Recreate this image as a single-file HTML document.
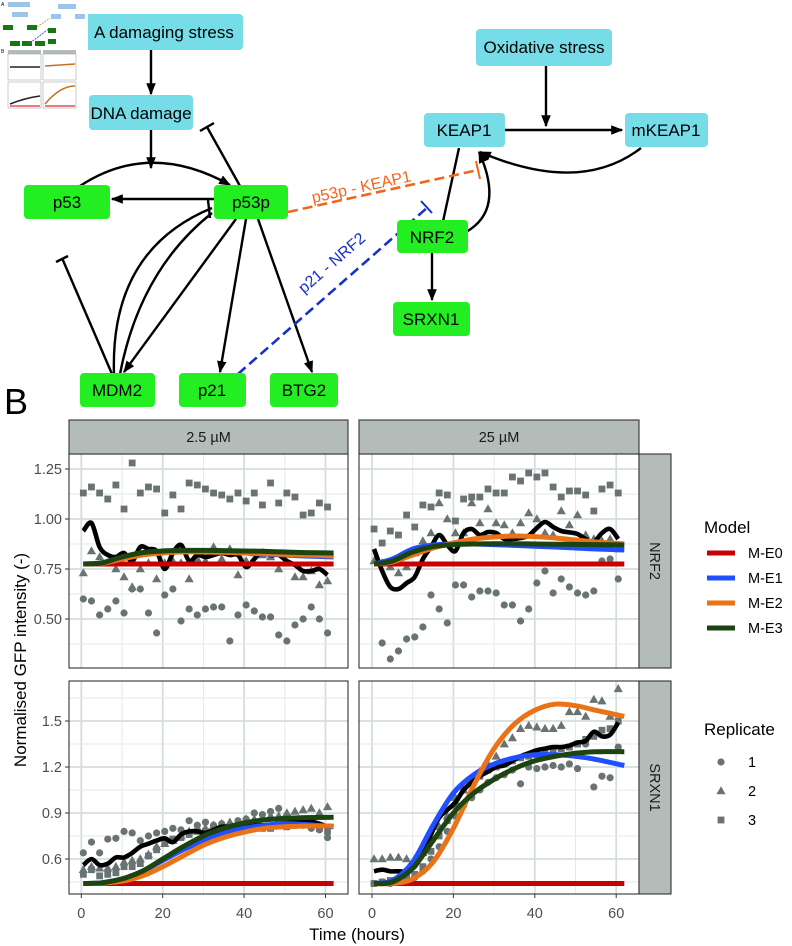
<!DOCTYPE html>
<html><head><meta charset="utf-8"><style>
html,body{margin:0;padding:0;background:#fff;}
svg{display:block;font-family:"Liberation Sans",Arial,sans-serif;}
</style></head><body>
<svg id="fig" width="792" height="946" viewBox="0 0 792 946">
<defs>
<marker id="ah" viewBox="0 0 10 10" refX="9" refY="5" markerWidth="5" markerHeight="5" orient="auto"><path d="M0,1 L10,5 L0,9 z" fill="#000"/></marker>
</defs>
<g id="panelA" font-size="17">
 <g stroke="#000" stroke-width="2.4" fill="none">
  <line x1="151" y1="50" x2="151" y2="94" marker-end="url(#ah)"/>
  <line x1="151" y1="130" x2="151" y2="168" marker-end="url(#ah)"/>
  <path d="M80,186 Q150,140 230,185" marker-end="url(#ah)"/>
  <line x1="214" y1="199" x2="112" y2="199" marker-end="url(#ah)"/>
  <line x1="240" y1="186" x2="207" y2="127"/>
  <line x1="200" y1="131" x2="214" y2="123"/>
  <line x1="236" y1="219" x2="124" y2="372" marker-end="url(#ah)"/>
  <line x1="246" y1="219" x2="220" y2="372" marker-end="url(#ah)"/>
  <line x1="258" y1="219" x2="312" y2="372" marker-end="url(#ah)"/>
  <line x1="112" y1="374" x2="62" y2="258"/>
  <line x1="56" y1="262" x2="68" y2="256"/>
  <path d="M114,374 Q110,250 212,208"/>
  <path d="M120,374 Q140,270 212,213"/>
  <line x1="208" y1="200" x2="210" y2="218"/>
  <line x1="546" y1="66" x2="546" y2="126" marker-end="url(#ah)"/>
  <line x1="505" y1="130" x2="622" y2="130" marker-end="url(#ah)"/>
  <path d="M641,148 Q580,195 480,152" marker-end="url(#ah)"/>
  <path d="M466,232 Q505,210 479,152" marker-end="url(#ah)"/>
  <line x1="459" y1="148" x2="442" y2="226"/>
  <line x1="434" y1="226" x2="450" y2="227"/>
  <line x1="432" y1="253" x2="432" y2="300" marker-end="url(#ah)"/>
 </g>
 <g>
  <line x1="288" y1="212" x2="478" y2="170" stroke="#f4661b" stroke-width="2.6" stroke-dasharray="10,5"/>
  <line x1="476" y1="161" x2="480" y2="179" stroke="#f4661b" stroke-width="2"/>
  <text x="0" y="0" fill="#f4661b" font-size="16" transform="translate(313,203) rotate(-12.5)">p53p - KEAP1</text>
 </g>
 <g>
  <line x1="238" y1="374" x2="428" y2="207" stroke="#1533c8" stroke-width="2.6" stroke-dasharray="10,5"/>
  <line x1="421" y1="201" x2="432" y2="213" stroke="#1533c8" stroke-width="2"/>
  <text x="0" y="0" fill="#1533c8" font-size="16" transform="translate(304,294) rotate(-41)">p21 - NRF2</text>
 </g>
 <g><rect x="85" y="14" width="158" height="36" rx="4" fill="#76dde8"/><text x="94" y="38">A damaging stress</text></g>
 <g><rect x="89" y="95" width="104" height="35" rx="4" fill="#76dde8"/><text x="141" y="119" text-anchor="middle">DNA damage</text></g>
 <g><rect x="24" y="185" width="86" height="34" rx="4" fill="#22ee22"/><text x="67" y="208" text-anchor="middle">p53</text></g>
 <g><rect x="214" y="185" width="74" height="34" rx="4" fill="#22ee22"/><text x="251" y="208" text-anchor="middle">p53p</text></g>
 <g><rect x="80" y="373" width="75" height="34" rx="4" fill="#22ee22"/><text x="117" y="396" text-anchor="middle">MDM2</text></g>
 <g><rect x="179" y="373" width="67" height="34" rx="4" fill="#22ee22"/><text x="212" y="396" text-anchor="middle">p21</text></g>
 <g><rect x="270" y="373" width="68" height="34" rx="4" fill="#22ee22"/><text x="304" y="396" text-anchor="middle">BTG2</text></g>
 <g><rect x="476" y="29" width="136" height="37" rx="4" fill="#76dde8"/><text x="544" y="53" text-anchor="middle">Oxidative stress</text></g>
 <g><rect x="424" y="113" width="81" height="34" rx="4" fill="#76dde8"/><text x="464" y="136" text-anchor="middle">KEAP1</text></g>
 <g><rect x="625" y="113" width="83" height="34" rx="4" fill="#76dde8"/><text x="666" y="136" text-anchor="middle">mKEAP1</text></g>
 <g><rect x="397" y="220" width="71" height="33" rx="4" fill="#22ee22"/><text x="432" y="243" text-anchor="middle">NRF2</text></g>
 <g><rect x="393" y="302" width="77" height="34" rx="4" fill="#22ee22"/><text x="431" y="325" text-anchor="middle">SRXN1</text></g>
 <g>
  <rect x="0" y="0" width="88" height="126" fill="#fff"/>
  <text x="1" y="6" font-size="5">A</text>
  <rect x="8" y="2" width="22" height="5" fill="#9dc3e8"/><rect x="12" y="12" width="16" height="5" fill="#9dc3e8"/>
  <rect x="58" y="4" width="18" height="5" fill="#9dc3e8"/><rect x="51" y="14" width="10" height="5" fill="#9dc3e8"/><rect x="75" y="14" width="10" height="5" fill="#9dc3e8"/>
  <rect x="3" y="25" width="10" height="5" fill="#137a13"/><rect x="27" y="25" width="10" height="5" fill="#137a13"/><rect x="48" y="28" width="8" height="5" fill="#137a13"/>
  <rect x="10" y="41" width="10" height="5" fill="#137a13"/><rect x="22" y="41" width="10" height="5" fill="#137a13"/><rect x="35" y="41" width="10" height="5" fill="#137a13"/><rect x="48" y="39" width="8" height="5" fill="#137a13"/>
  <line x1="37" y1="27" x2="50" y2="18" stroke="#e8a040" stroke-width="1" stroke-dasharray="2,1"/>
  <line x1="30" y1="43" x2="50" y2="28" stroke="#4060d0" stroke-width="1" stroke-dasharray="2,1"/>
  <text x="1" y="53" font-size="5">B</text>
  <rect x="8" y="50" width="33" height="4" fill="#b3bcb8"/><rect x="43" y="50" width="33" height="4" fill="#b3bcb8"/>
  <rect x="8" y="54" width="33" height="26" fill="#fff" stroke="#999" stroke-width=".5"/><rect x="43" y="54" width="33" height="26" fill="#fff" stroke="#999" stroke-width=".5"/>
  <rect x="8" y="82" width="33" height="26" fill="#fff" stroke="#999" stroke-width=".5"/><rect x="43" y="82" width="33" height="26" fill="#fff" stroke="#999" stroke-width=".5"/>
  <line x1="10" y1="67" x2="40" y2="67" stroke="#222" stroke-width="1.5"/><line x1="45" y1="66" x2="75" y2="64" stroke="#c87020" stroke-width="1.5"/>
  <line x1="10" y1="106" x2="40" y2="106" stroke="#c00" stroke-width="1"/><path d="M10,104 Q25,98 40,96" stroke="#222" stroke-width="1.5" fill="none"/>
  <line x1="45" y1="106" x2="75" y2="106" stroke="#c00" stroke-width="1"/><path d="M45,104 Q60,86 75,86" stroke="#c87020" stroke-width="1.5" fill="none"/>
 </g>
</g>
<text x="4" y="414" font-size="36">B</text>
<g id="chart"></g>
</svg>
<script>
const times = [0.5,2.5,4.5,6.5,8.5,10.5,12.5,14.5,16.5,18.5,20.5,22.5,24.5,26.5,28.5,30.5,32.5,34.5,36.5,38.5,40.5,42.5,44.5,46.5,48.5,50.5,52.5,54.5,56.5,58.5,60.5];
const modelTimes = [0.5,5,10,15,20,25,30,35,40,45,50,55,62];
const concentrations = ["2.5 µM","25 µM"];
const readouts = ["NRF2","SRXN1"];
const modelNames = ["M-E0","M-E1","M-E2","M-E3"];
const replicateNames = ["1","2","3"];

const nrf2LowRep1 = [0.60,0.59,0.52,0.55,0.59,0.53,0.65,0.65,0.53,0.43,0.62,0.65,0.49,0.55,0.52,0.55,0.56,0.56,0.39,0.52,0.57,0.54,0.51,0.51,0.42,0.39,0.47,0.50,0.56,0.50,0.43];
const nrf2LowRep2 = [0.73,0.84,0.81,0.78,0.75,0.71,0.66,0.75,0.78,0.70,0.78,0.79,0.78,0.70,0.80,0.79,0.86,0.80,0.85,0.72,0.79,0.83,0.82,0.81,0.75,0.78,0.71,0.71,0.74,0.67,0.69];
const nrf2LowRep3 = [1.13,1.16,1.13,1.10,1.17,1.05,1.28,1.13,1.16,1.15,1.03,1.12,1.05,1.18,1.17,1.15,1.13,1.12,1.10,1.13,1.09,1.13,1.07,1.18,1.08,1.13,1.11,1.02,1.03,1.08,1.06];
const nrf2LowMean = [0.94,0.98,0.86,0.82,0.81,0.83,0.79,0.86,0.85,0.84,0.75,0.83,0.87,0.79,0.82,0.81,0.82,0.83,0.82,0.82,0.76,0.80,0.84,0.82,0.82,0.79,0.77,0.74,0.74,0.75,0.72];
const nrf2LowE0 = [0.775,0.775,0.775,0.775,0.775,0.775,0.775,0.775,0.775,0.775,0.775,0.775,0.775];
const nrf2LowE1 = [0.775,0.78,0.81,0.83,0.838,0.84,0.838,0.835,0.83,0.825,0.82,0.815,0.81];
const nrf2LowE2 = [0.775,0.778,0.80,0.82,0.83,0.835,0.835,0.833,0.83,0.827,0.823,0.82,0.815];
const nrf2LowE3 = [0.775,0.78,0.81,0.832,0.84,0.843,0.843,0.842,0.84,0.838,0.835,0.832,0.83];
const nrf2HighRep1 = [null,0.38,0.30,0.34,0.40,0.41,0.46,0.62,0.55,0.48,0.67,0.67,0.61,0.64,0.64,0.63,0.57,0.57,0.49,0.55,0.68,0.74,0.63,0.70,0.66,0.63,0.62,0.64,0.79,0.80,0.70];
const nrf2HighRep2 = [0.79,0.78,0.76,0.73,0.76,0.83,0.89,0.93,1.08,1.00,0.93,0.93,1.08,0.98,1.05,0.98,0.97,0.93,0.98,1.03,1.00,0.93,0.92,1.04,0.97,1.02,0.92,0.90,0.89,0.90,0.85];
const nrf2HighRep3 = [0.95,0.88,0.94,0.92,1.02,0.96,1.07,1.06,1.13,1.12,0.99,1.10,1.11,1.11,1.15,1.13,1.13,1.21,1.19,1.23,1.21,1.23,1.16,1.11,1.14,1.14,1.12,1.04,1.15,1.17,1.13];
const nrf2HighMean = [0.85,0.74,0.66,0.65,0.68,0.71,0.80,0.86,0.92,0.87,0.84,0.93,0.95,0.92,0.935,0.93,0.90,0.90,0.905,0.917,0.955,0.985,0.96,0.94,0.933,0.925,0.90,0.885,0.93,0.95,0.90];
const nrf2HighE0 = [0.775,0.775,0.775,0.775,0.775,0.775,0.775,0.775,0.775,0.775,0.775,0.775,0.775];
const nrf2HighE1 = [0.775,0.80,0.85,0.87,0.875,0.875,0.872,0.868,0.864,0.86,0.855,0.85,0.845];
const nrf2HighE2 = [0.775,0.785,0.82,0.855,0.88,0.90,0.91,0.915,0.912,0.905,0.895,0.885,0.875];
const nrf2HighE3 = [0.775,0.79,0.835,0.862,0.872,0.875,0.876,0.876,0.875,0.874,0.873,0.872,0.87];
const srxnLowRep1 = [0.64,0.71,0.64,0.73,0.735,0.78,0.77,0.72,0.75,0.77,0.78,0.80,0.79,0.85,0.82,0.84,0.82,0.83,0.80,0.85,0.86,0.90,0.89,0.91,0.93,0.87,0.85,0.82,0.80,0.79,0.74];
const srxnLowRep2 = [0.53,0.55,0.54,0.54,0.55,0.58,0.59,0.60,0.63,0.68,0.70,0.72,0.75,0.78,0.80,0.80,0.82,0.83,0.84,0.84,0.86,0.86,0.87,0.88,0.88,0.90,0.91,0.92,0.93,0.90,0.94];
const srxnLowRep3 = [0.50,0.53,0.49,0.50,0.51,0.55,0.55,0.57,0.62,0.66,0.70,0.73,0.74,0.76,0.78,0.78,0.76,0.78,0.79,0.80,0.80,0.81,0.80,0.80,0.82,0.81,0.82,0.83,0.84,0.80,0.78];
const srxnLowMean = [0.56,0.60,0.56,0.57,0.61,0.61,0.64,0.68,0.70,0.72,0.735,0.71,0.76,0.78,0.78,0.77,0.79,0.81,0.81,0.81,0.815,0.82,0.82,0.82,0.83,0.835,0.84,0.843,0.843,0.83,0.81];
const srxnLowE0 = [0.44,0.44,0.44,0.44,0.44,0.44,0.44,0.44,0.44,0.44,0.44,0.44,0.44];
const srxnLowE1 = [0.44,0.445,0.47,0.52,0.59,0.66,0.72,0.77,0.80,0.82,0.83,0.825,0.81];
const srxnLowE2 = [0.44,0.442,0.455,0.49,0.55,0.62,0.69,0.74,0.775,0.80,0.81,0.815,0.815];
const srxnLowE3 = [0.44,0.445,0.47,0.52,0.60,0.68,0.75,0.80,0.835,0.855,0.865,0.87,0.872];
const srxnHighRep1 = [0.44,0.45,0.44,0.45,0.46,0.48,0.52,0.60,0.68,0.78,0.88,0.95,1.00,1.05,1.10,1.13,1.15,1.18,1.09,1.20,1.19,1.20,1.21,1.20,1.22,1.19,1.35,1.07,1.14,1.13,1.33];
const srxnHighRep2 = [0.60,0.60,0.61,0.61,0.60,0.60,0.64,0.73,0.81,0.88,1.00,1.05,1.12,1.17,1.22,1.27,1.35,1.39,1.45,1.47,1.46,1.45,1.45,1.47,1.56,1.56,1.53,1.64,1.63,1.53,1.71];
const srxnHighRep3 = [0.44,0.45,0.46,0.47,0.48,0.50,0.55,0.65,0.75,0.85,0.95,1.05,1.10,1.14,1.18,1.20,1.22,1.24,1.26,1.27,1.28,1.30,1.31,1.32,1.33,1.35,1.38,1.40,1.44,1.45,1.50];
const srxnHighMean = [0.52,0.53,0.52,0.52,0.52,0.55,0.64,0.76,0.87,0.92,0.97,1.05,1.10,1.14,1.17,1.20,1.21,1.24,1.27,1.29,1.31,1.32,1.33,1.33,1.34,1.36,1.37,1.43,1.40,1.41,1.49];
const srxnHighE0 = [0.44,0.44,0.44,0.44,0.44,0.44,0.44,0.44,0.44,0.44,0.44,0.44,0.44];
const srxnHighE1 = [0.44,0.46,0.58,0.82,1.03,1.15,1.22,1.26,1.28,1.28,1.27,1.25,1.21];
const srxnHighE2 = [0.44,0.44,0.47,0.58,0.80,1.08,1.32,1.48,1.57,1.61,1.60,1.57,1.53];
const srxnHighE3 = [0.44,0.45,0.54,0.72,0.90,1.03,1.12,1.19,1.24,1.27,1.29,1.30,1.30];

const xTicks = [0,20,40,60];
const nrf2Ticks = [0.50,0.75,1.00,1.25];
const nrf2TickLabels = ["0.50","0.75","1.00","1.25"];
const srxnTicks = [0.6,0.9,1.2,1.5];
const srxnTickLabels = ["0.6","0.9","1.2","1.5"];

const NS = "http://www.w3.org/2000/svg";
const root = document.getElementById('chart');
const modelColors = ["#c80000","#1f4fff","#ea7317","#1c4410"];
const ptColor = "#6a7373";
const cols = [{x0:69,x1:348,zx:81.3},{x0:359,x1:639,zx:372}];
const rows = [{y0:454,y1:668,ref:1.0,refY:519,k:200},{y0:681,y1:894,ref:0.6,refY:859,k:153.3}];
function xScale(c,t){return cols[c].zx + t*4.07;}
function yScale(r,v){return rows[r].refY - (v-rows[r].ref)*rows[r].k;}
function el(tag,attrs,parent){const e=document.createElementNS(NS,tag);for(const k in attrs)e.setAttribute(k,attrs[k]);(parent||root).appendChild(e);return e;}
function smoothPath(pts){
  let d="M"+pts[0][0].toFixed(1)+","+pts[0][1].toFixed(1);
  for(let i=0;i<pts.length-1;i++){
    const p0=pts[Math.max(0,i-1)],p1=pts[i],p2=pts[i+1],p3=pts[Math.min(pts.length-1,i+2)];
    const c1=[p1[0]+(p2[0]-p0[0])/6,p1[1]+(p2[1]-p0[1])/6],c2=[p2[0]-(p3[0]-p1[0])/6,p2[1]-(p3[1]-p1[1])/6];
    d+=" C"+c1[0].toFixed(1)+","+c1[1].toFixed(1)+" "+c2[0].toFixed(1)+","+c2[1].toFixed(1)+" "+p2[0].toFixed(1)+","+p2[1].toFixed(1);
  }
  return d;
}
function marker(kind,x,y,parent){
  let m;
  if(kind===0){m=el('circle',{cx:x,cy:y,r:3.6,fill:ptColor},parent);}
  else if(kind===1){m=el('path',{d:`M${x},${y-4.8} L${x+4.6},${y+3.3} L${x-4.6},${y+3.3} Z`,fill:ptColor},parent);}
  else {m=el('rect',{x:x-3.4,y:y-3.4,width:6.8,height:6.8,fill:ptColor},parent);}
  return m;
}
const panels = [
  {r:0,c:0,reps:[nrf2LowRep1,nrf2LowRep2,nrf2LowRep3],mean:nrf2LowMean,models:[nrf2LowE0,nrf2LowE1,nrf2LowE2,nrf2LowE3]},
  {r:0,c:1,reps:[nrf2HighRep1,nrf2HighRep2,nrf2HighRep3],mean:nrf2HighMean,models:[nrf2HighE0,nrf2HighE1,nrf2HighE2,nrf2HighE3]},
  {r:1,c:0,reps:[srxnLowRep1,srxnLowRep2,srxnLowRep3],mean:srxnLowMean,models:[srxnLowE0,srxnLowE1,srxnLowE2,srxnLowE3]},
  {r:1,c:1,reps:[srxnHighRep1,srxnHighRep2,srxnHighRep3],mean:srxnHighMean,models:[srxnHighE0,srxnHighE1,srxnHighE2,srxnHighE3]}
];
const yT=[[nrf2Ticks,nrf2TickLabels],[srxnTicks,srxnTickLabels]];

panels.forEach((p,pi)=>{
  const C=cols[p.c],R=rows[p.r];
  const g=el('g',{});
  
  
  const cid='clip'+pi;
  const cp=el('clipPath',{id:cid},g);el('rect',{x:C.x0,y:R.y0,width:C.x1-C.x0,height:R.y1-R.y0},cp);
  el('rect',{x:C.x0,y:R.y0,width:C.x1-C.x0,height:R.y1-R.y0,fill:'#fff'},g);
  const grid=el('g',{'clip-path':`url(#${cid})`},g);
  
  
  [10,30,50].forEach(t=>el('line',{x1:xScale(p.c,t),x2:xScale(p.c,t),y1:R.y0,y2:R.y1,stroke:'#e4e9e9','stroke-width':1},grid));
  xTicks.forEach(t=>el('line',{x1:xScale(p.c,t),x2:xScale(p.c,t),y1:R.y0,y2:R.y1,stroke:'#d5dddd','stroke-width':1.8},grid));
  const tv=yT[p.r][0],step=tv[1]-tv[0];
  for(let v=tv[0]-step*1.5;v<=tv[tv.length-1]+step*1.5;v+=step){el('line',{x1:C.x0,x2:C.x1,y1:yScale(p.r,v),y2:yScale(p.r,v),stroke:'#e4e9e9','stroke-width':1},grid);}
  tv.forEach(v=>el('line',{x1:C.x0,x2:C.x1,y1:yScale(p.r,v),y2:yScale(p.r,v),stroke:'#d5dddd','stroke-width':1.8},grid));
  const pts=el('g',{'clip-path':`url(#${cid})`},g);
  p.reps.forEach((arr,ri)=>{arr.forEach((v,i)=>{ if(v===null)return;
    const m=marker(ri,xScale(p.c,times[i]),yScale(p.r,v),pts);
    
    
  });});
  const meanPts=p.mean.map((v,i)=>[xScale(p.c,times[i]),yScale(p.r,v)]);
  const ml=el('path',{d:smoothPath(meanPts),fill:'none',stroke:'#000','stroke-width':4.6,'stroke-linejoin':'round'},pts);
  
  
  p.models.forEach((arr,mi)=>{
    const mp=arr.map((v,i)=>[xScale(p.c,modelTimes[i]),yScale(p.r,v)]);
    const l=el('path',{d:smoothPath(mp),fill:'none',stroke:modelColors[mi],'stroke-width':5,'stroke-linecap':'butt'},pts);
    
    
  });
  el('rect',{x:C.x0,y:R.y0,width:C.x1-C.x0,height:R.y1-R.y0,fill:'none',stroke:'#333','stroke-width':1.1},g);
  if(p.c===0){
    yT[p.r][0].forEach((v,i)=>{
      const y=yScale(p.r,v);
      el('line',{x1:C.x0-4,x2:C.x0,y1:y,y2:y,stroke:'#333','stroke-width':1},g);
      const t=el('text',{x:C.x0-7,y:y+5,'text-anchor':'end','font-size':14.5,fill:'#4d4d4d'},g);
      t.textContent=yT[p.r][1][i];
      
      
    });
  }
  if(p.r===1){
    xTicks.forEach(tk=>{
      const x=xScale(p.c,tk);
      el('line',{x1:x,x2:x,y1:R.y1,y2:R.y1+4,stroke:'#333','stroke-width':1},g);
      const t=el('text',{x:x,y:R.y1+24,'text-anchor':'middle','font-size':14.5,fill:'#4d4d4d'},g);
      t.textContent=tk;
      
      
    });
  }
});
concentrations.forEach((c,i)=>{
  const C=cols[i];
  const g=el('g',{});
  
  
  el('rect',{x:C.x0,y:420,width:C.x1-C.x0,height:34,fill:'#b3bcb8',stroke:'#333','stroke-width':1.1},g);
  const t=el('text',{x:(C.x0+C.x1)/2,y:442,'text-anchor':'middle','font-size':14.5,fill:'#1a1a1a'},g);t.textContent=c;
});
readouts.forEach((rname,i)=>{
  const R=rows[i];
  const g=el('g',{});
  
  
  el('rect',{x:639,y:R.y0,width:32,height:R.y1-R.y0,fill:'#b3bcb8',stroke:'#333','stroke-width':1.1},g);
  const cy=(R.y0+R.y1)/2;
  const t=el('text',{x:0,y:0,'text-anchor':'middle','font-size':14.5,fill:'#1a1a1a',transform:`translate(650,${cy}) rotate(90)`},g);t.textContent=rname;
});
const yt=el('text',{x:0,y:0,'text-anchor':'middle','font-size':17,fill:'#000',transform:'translate(26,660) rotate(-90)'});
yt.textContent='Normalised GFP intensity (-)';


const xt=el('text',{x:357,y:940,'text-anchor':'middle','font-size':17,fill:'#000'});
xt.textContent='Time (hours)';


const lg=el('g',{});


const lt=el('text',{x:704,y:533,'font-size':17},lg);lt.textContent='Model';
modelNames.forEach((n,i)=>{
  const y=553+i*25;
  const e=el('g',{},lg);
  
  
  el('line',{x1:707,x2:735,y1:y,y2:y,stroke:modelColors[i],'stroke-width':5},e);
  const t=el('text',{x:748,y:y+5,'font-size':14.5},e);t.textContent=n;
});
const rg=el('g',{});


const rt=el('text',{x:704,y:735,'font-size':17},rg);rt.textContent='Replicate';
replicateNames.forEach((n,i)=>{
  const y=762+i*29;
  const e=el('g',{},rg);
  
  
  marker(i,721,y,e);
  const t=el('text',{x:748,y:y+5,'font-size':14.5},e);t.textContent=n;
});
</script>
</body></html>
